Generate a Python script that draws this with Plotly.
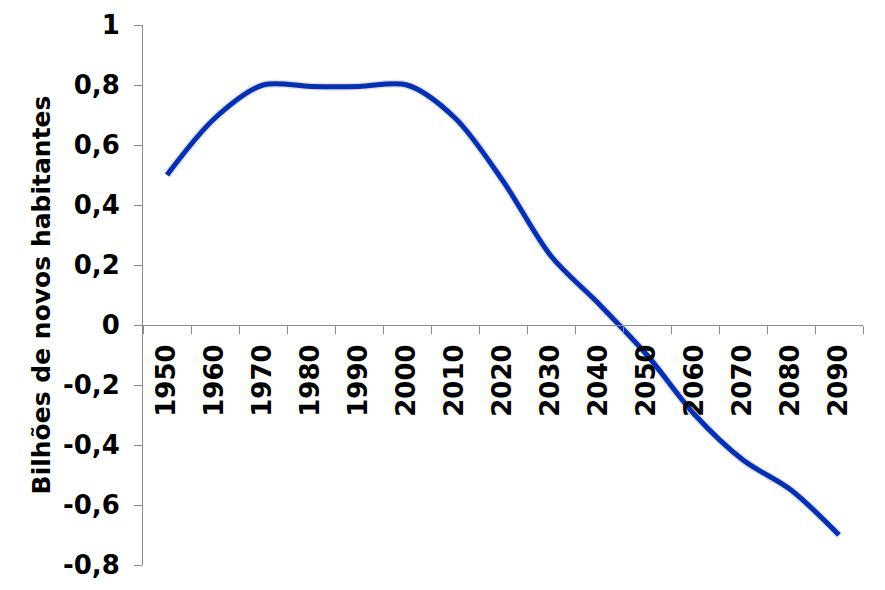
import plotly.graph_objects as go

years = ["1950", "1960", "1970", "1980", "1990", "2000", "2010", "2020",
         "2030", "2040", "2050", "2060", "2070", "2080", "2090"]
values = [0.50, 0.69, 0.80, 0.795, 0.795, 0.80, 0.69, 0.48,
          0.23, 0.07, -0.10, -0.30, -0.45, -0.55, -0.70]
y_ticks = [1, 0.8, 0.6, 0.4, 0.2, 0, -0.2, -0.4, -0.6, -0.8]
y_tick_labels = ["1", "0,8", "0,6", "0,4", "0,2", "0", "-0,2", "-0,4", "-0,6", "-0,8"]
y_title = "Bilhões de novos habitantes"

# page body has an 8px margin, so the figure is sized/offset to compensate
W, H = 877, 582
ml, mt = 135, 17
pw, ph = 723, 543
mr, mb = W - ml - pw, H - mt - ph
dx, dy = 3 / pw, 3 / ph

FONT = "DejaVu Sans"
FS = 26
fig = go.Figure()

# soft shadow (drawn on offset overlay axes)
fig.add_trace(go.Scatter(x=years, y=values, mode="lines", xaxis="x2", yaxis="y2",
                         line=dict(color="rgba(0,0,0,0.12)", width=8, shape="spline", smoothing=0.9),
                         hoverinfo="skip", showlegend=False))
fig.add_trace(go.Scatter(x=years, y=values, mode="lines",
                         line=dict(color="#0537CF", width=5, shape="spline", smoothing=0.9),
                         showlegend=False))

yr = [-0.8, 1.0]
xr = [-0.5, len(years) - 0.5]
zero_pos = dy + (1 - dy) * (0 - yr[0]) / (yr[1] - yr[0])

fig.update_layout(
    width=W, height=H,
    margin=dict(l=ml, r=mr, t=mt, b=mb),
    paper_bgcolor="white", plot_bgcolor="white",
    font=dict(family=FONT, color="black"),
    xaxis=dict(type="category", range=xr, anchor="free", position=zero_pos,
               showline=True, linecolor="#8c8c8c", linewidth=1,
               ticks="outside", tickson="boundaries", ticklen=8, tickcolor="#8c8c8c",
               tickangle=-90, tickfont=dict(family=FONT, size=FS, color="black", weight="bold"),
               ticklabelstandoff=8, automargin=False,
               showgrid=False, zeroline=False, domain=[0, 1 - dx]),
    yaxis=dict(range=yr, tickvals=y_ticks, ticktext=y_tick_labels,
               showline=True, linecolor="#8c8c8c", linewidth=1,
               ticks="outside", ticklen=8, tickcolor="#8c8c8c",
               tickfont=dict(family=FONT, size=FS, color="black", weight="bold"),
               ticklabelstandoff=9, automargin=False,
               showgrid=False, zeroline=False, domain=[dy, 1],
               title=dict(text=y_title, font=dict(family=FONT, size=25, color="black", weight="bold"),
                          standoff=5)),
    xaxis2=dict(type="category", range=xr, overlaying="x", domain=[dx, 1], anchor="y2", visible=False),
    yaxis2=dict(range=yr, overlaying="y", domain=[0, 1 - dy], anchor="x2", visible=False),
)

fig.write_html("out.html")
